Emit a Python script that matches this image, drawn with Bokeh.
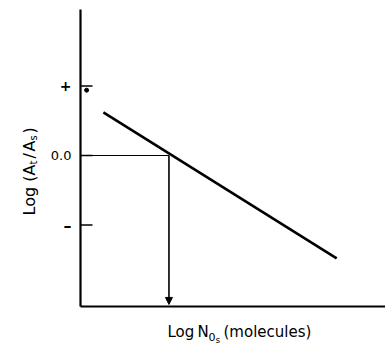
import math
from bokeh.plotting import figure
from bokeh.models import Range1d, Arrow, NormalHead
from bokeh.core.properties import value
from bokeh.embed import file_html
from bokeh.resources import INLINE

# Calibration line: log(At/As) falls as log N0s grows
line_x = [0.75, 8.4]
line_y = [0.62, -1.48]

# Point where the line crosses log(At/As) = 0 -> log N0s
cross_x = 2.9
cross_y = 0.0

# Y tick positions and their labels
y_ticks = [1, 0, -1]
y_tick_labels = ["+", "0.0", "\u2013"]

# Small dot next to the "+" tick
dot_x = [0.2]
dot_y = [0.94]

# Extent of the drawn axes
AX_X0, AX_X1 = 0.0, 10.0
AX_Y0, AX_Y1 = -2.173, 2.10

FONT = "DejaVu Sans"
W, H = 385, 345
PX_X = 30.5      # pixels per x unit
PX_Y = 69.5      # pixels per y unit
ORG_X, ORG_Y = 80, 155   # canvas position of (0, 0)

p = figure(width=W, height=H, output_backend="svg", toolbar_location=None,
           x_range=Range1d(-ORG_X / PX_X, (W - ORG_X) / PX_X),
           y_range=Range1d(-(H - ORG_Y) / PX_Y, ORG_Y / PX_Y),
           min_border=0)
p.axis.visible = False
p.grid.visible = False
p.outline_line_color = None
p.background_fill_color = "white"
p.border_fill_color = "white"

def dx(px):
    return (px - ORG_X) / PX_X

def dy(py):
    return (ORG_Y - py) / PX_Y

# Axes
p.line([AX_X0, AX_X0], [AX_Y0, AX_Y1], line_color="black", line_width=2.2)
p.line([AX_X0, AX_X1], [AX_Y0, AX_Y0], line_color="black", line_width=1.8)

# Inward ticks on the y axis
tick_len = 12 / PX_X
p.segment(x0=[AX_X0] * len(y_ticks), y0=y_ticks,
          x1=[AX_X0 + tick_len] * len(y_ticks), y1=y_ticks,
          line_color="black", line_width=1.3)

# Tick labels, each with its own weight and size
tick_styles = [("14px", "bold"), ("13px", "normal"), ("16px", "bold")]
for t, s, (size, style) in zip(y_ticks, y_tick_labels, tick_styles):
    p.text(x=[dx(71)], y=[t], text=[s], text_font=value(FONT),
           text_font_size=size, text_font_style=style,
           text_align="right", text_baseline="middle", text_color="black")

# Main calibration line
p.line(line_x, line_y, line_color="black", line_width=2.6)

# Reading off the intercept: across from the y axis, then down to the x axis
p.line([AX_X0, cross_x], [cross_y, cross_y], line_color="black", line_width=1.1)
p.add_layout(Arrow(end=NormalHead(size=7, fill_color="black", line_color="black"),
                   x_start=cross_x, y_start=cross_y, x_end=cross_x,
                   y_end=AX_Y0 + 0.03, line_color="black", line_width=1.6))

p.scatter(dot_x, dot_y, size=4, color="black")

def lab(px, py, text, size, angle=0.0):
    p.text(x=[dx(px)], y=[dy(py)], text=[text], text_font=value(FONT),
           text_font_size=size, text_color="black", text_align="left",
           text_baseline="alphabetic", angle=angle)

# X axis title: Log N0s (molecules)
lab(167, 331, "Log", "15px")
lab(197, 331, "N", "15px")
lab(208, 336, "0", "11px")
lab(215, 339, "s", "9px")
lab(223, 331, "(molecules)", "15px")

# Y axis title, rotated: Log (At/As)
up = math.pi / 2
lab(29, 215, "Log (A", "16px", up)
lab(33, 164, "t", "10px", up)
lab(29, 158, "/", "16px", up)
lab(29, 151, "A", "16px", up)
lab(33, 140, "s", "10px", up)
lab(29, 133, ")", "16px", up)

open("out.html", "w").write(file_html(p, INLINE))
